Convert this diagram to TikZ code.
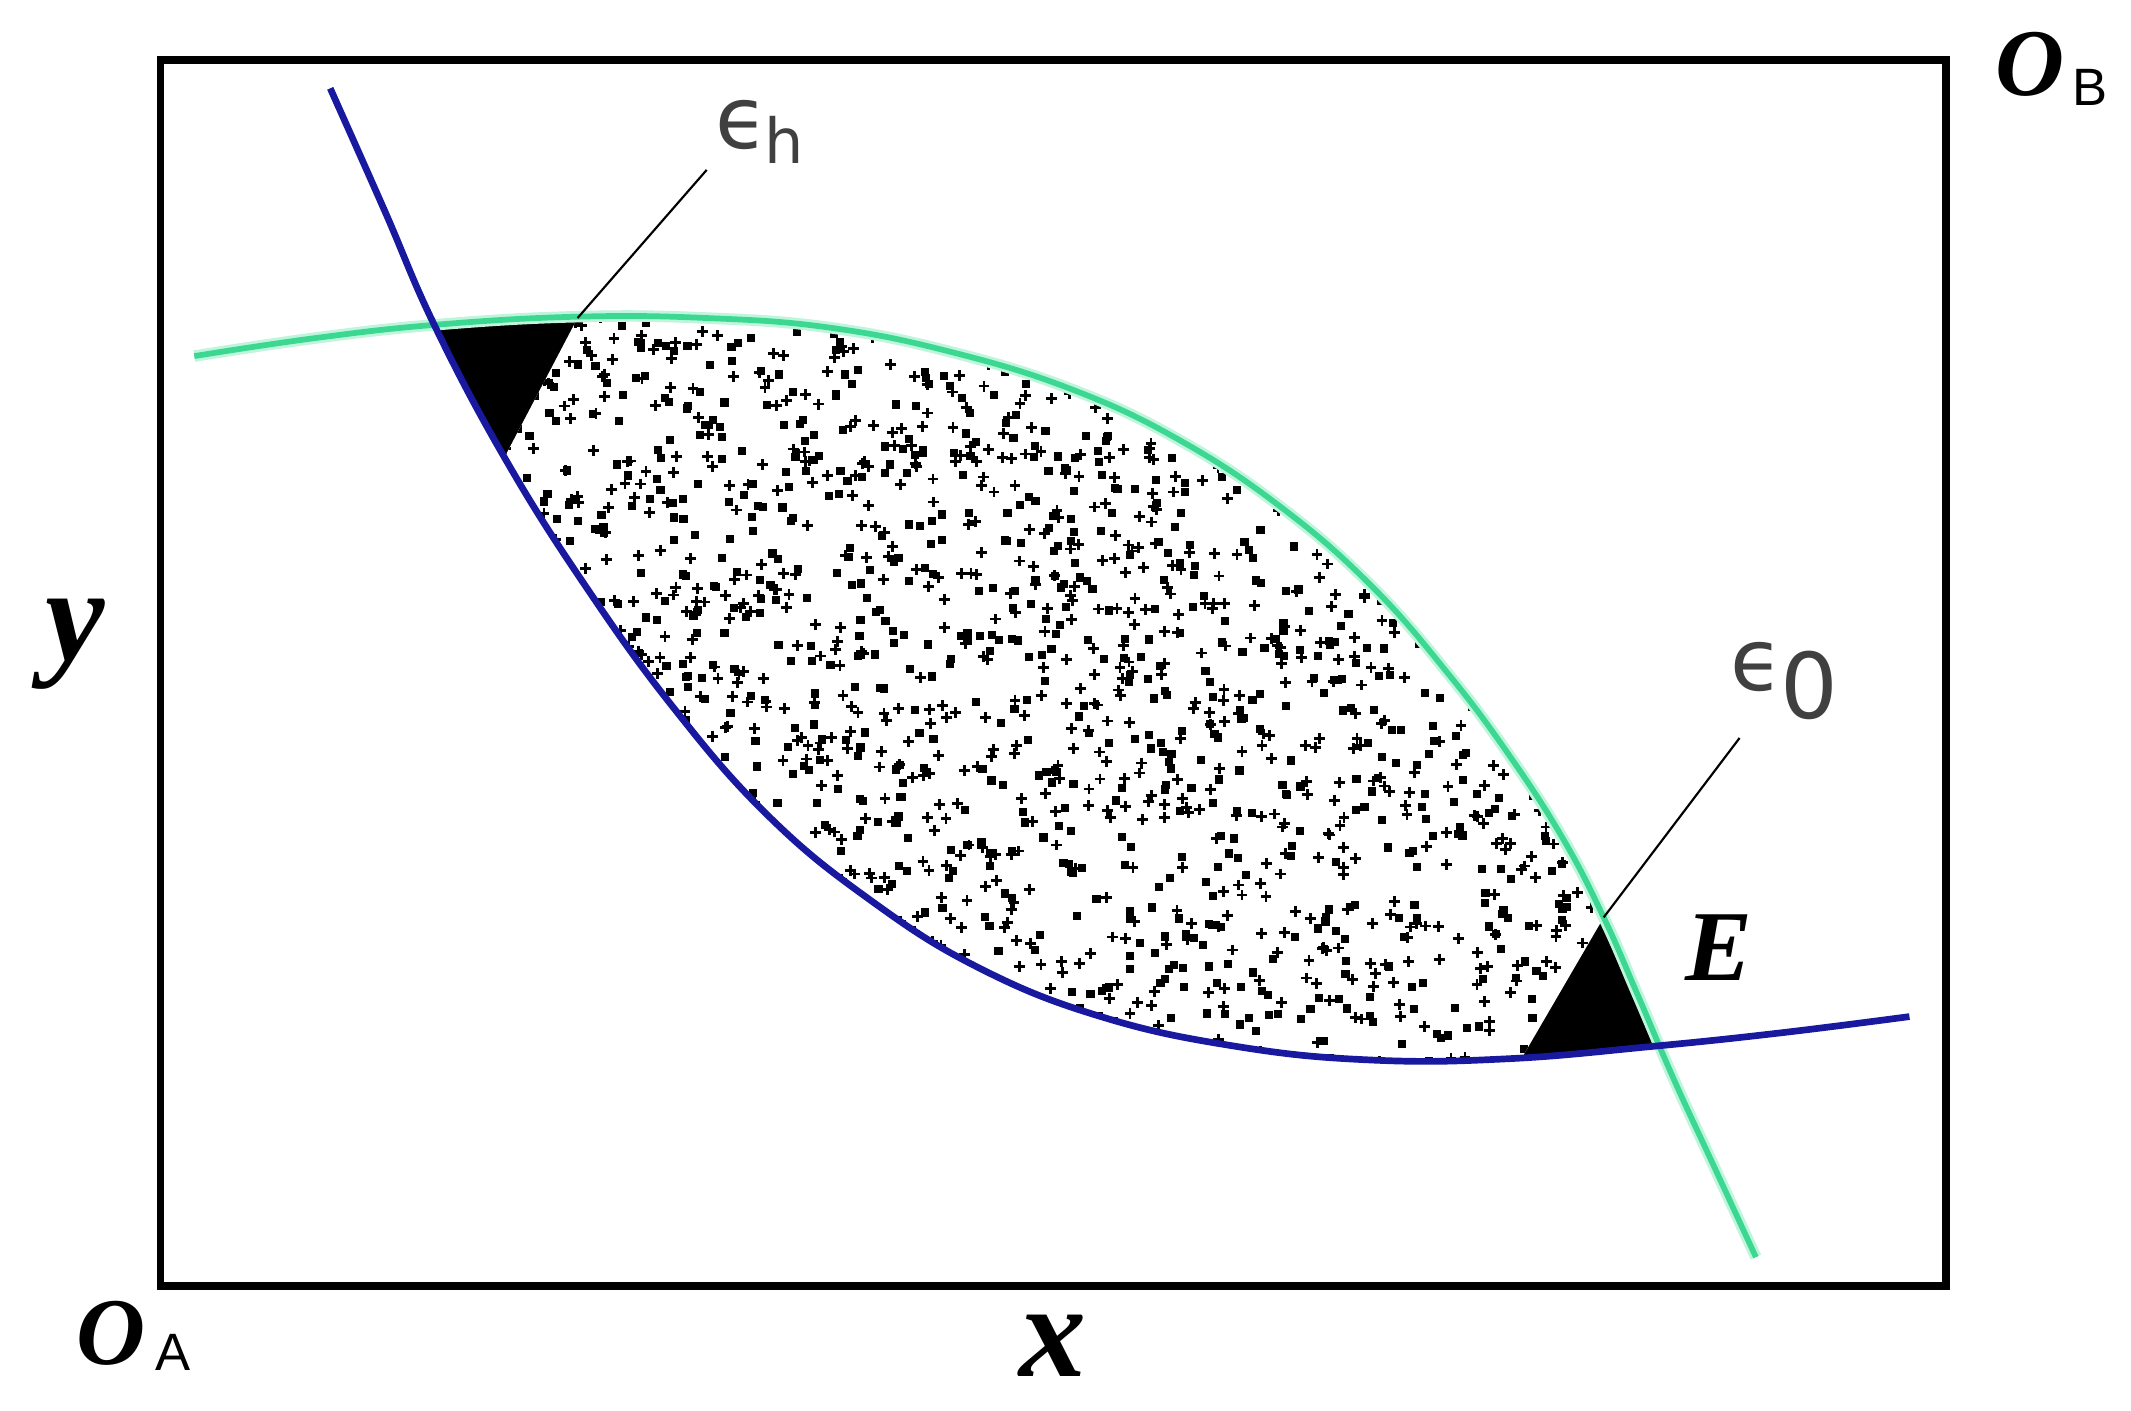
\documentclass[tikz,border=0pt]{standalone}
\usepackage{fontspec}
\setmainfont{Liberation Serif}
\newfontfamily\djv{DejaVu Sans}
\newfontfamily\lsans{Liberation Sans}
\definecolor{cblue}{RGB}{25,25,160}
\definecolor{cgreen}{RGB}{60,215,145}
\definecolor{cglow}{RGB}{190,245,220}
\def\bluepts{(243,65) (283,155) (320,240) (372,338) (430,430) (495,520) (565,600) (640,662) (720,712) (810,748) (910,770) (1010,780) (1110,779) (1215,770) (1310,760) (1405,748)}
\def\greenpts{(143,262) (230,249) (320,239) (425,233) (520,234) (610,241) (700,259) (790,287) (870,325) (945,375) (1010,432) (1065,495) (1110,555) (1150,617) (1180,675) (1205,732) (1232,795) (1262,860) (1292,925)}
\tikzset{
  box/.style={line width=1.6pt, draw=black},
  bluecurve/.style={draw=cblue, line width=1.4pt},
  greencurve/.style={draw=cgreen, line width=1.2pt},
  glowcurve/.style={draw=cglow, line width=2.4pt},
  leader/.style={draw=black, line width=0.45pt},
  bigit/.style={font=\fontsize{28}{30}\selectfont\bfseries\itshape, inner sep=0pt},
  olab/.style={font=\fontsize{20}{22}\selectfont\bfseries\itshape, inner sep=0pt},
  sublab/.style={font=\lsans\fontsize{11}{12}\selectfont, inner sep=0pt},
  epslab/.style={font=\djv\fontsize{18}{20}\selectfont, text=black!75, inner sep=0pt},
}
\begin{document}
\begin{tikzpicture}[x=0.01cm, y=-0.01cm]
\useasboundingbox (0,0) rectangle (1568,1038);
\fill[white] (0,0) rectangle (1568,1038);

% lens region
\begin{scope}
  \clip plot[smooth, tension=0.7] coordinates {\greenpts} -- (1292,1100) -- (-50,1100) -- (-50,262) -- cycle;
  \clip plot[smooth, tension=0.7] coordinates {\bluepts} -- (1620,748) -- (1620,-50) -- (243,-50) -- cycle;
  \fill[black] (0,0) rectangle (1568,1038);
  \fill[white] (478,133) -- (1600,-200) -- (1240,572) -- (1060,881) -- (-100,1200) -- (319,436) -- cycle;
  \clip (478,133) -- (1600,-200) -- (1240,572) -- (1060,881) -- (-100,1200) -- (319,436) -- cycle;
  \pgfmathsetseed{11}
  \foreach \i in {1,...,2400}{
    \pgfmathsetmacro\px{330+885*rnd}
    \pgfmathsetmacro\py{228+555*rnd}
    \pgfmathsetmacro\t{rnd}
    \ifdim\t pt<0.5pt
      \fill[black] (\px-3,\py-3) rectangle ++(6,6);
    \else
      \draw[black, line width=0.6pt] (\px-4,\py) -- ++(8,0) (\px,\py-4) -- ++(0,8);
    \fi
  }
\end{scope}

% curves
\draw[glowcurve] plot[smooth, tension=0.7] coordinates {\greenpts};
\draw[greencurve] plot[smooth, tension=0.7] coordinates {\greenpts};
\draw[bluecurve] plot[smooth, tension=0.7] coordinates {\bluepts};

% box
\draw[box] (118,44) rectangle (1432,946);

% leaders
\coordinate (hcorner) at (425,234);
\coordinate (hend) at (520,125);
\coordinate (ocorner) at (1180,675);
\coordinate (oend) at (1280,543);
\draw[leader] (hcorner) -- (hend);
\draw[leader] (ocorner) -- (oend);

% labels
\node[olab] (OB) at (1494,47) {O};
\node[sublab] (OBs) at (1538,64) {B};
\node[olab] (OA) at (82,981) {O};
\node[sublab] (OAs) at (127,995) {A};
\node[bigit] (xl) at (775,990) {x};
\node[bigit] (yl) at (55,474) {y};
\node[font=\fontsize{21}{23}\selectfont\bfseries\itshape, inner sep=0pt] (El) at (1265,697) {E};
\node[epslab] (eh) at (546,92) {ϵ};
\node[font=\djv\fontsize{13}{14}\selectfont, text=black!75, inner sep=0pt] (ehs) at (577,103) {h};
\node[epslab] (e0) at (1293,491) {ϵ};
\node[font=\djv\fontsize{19}{20}\selectfont, text=black!75, inner sep=0pt] (e0s) at (1331,504) {0};
\end{tikzpicture}
\end{document}
